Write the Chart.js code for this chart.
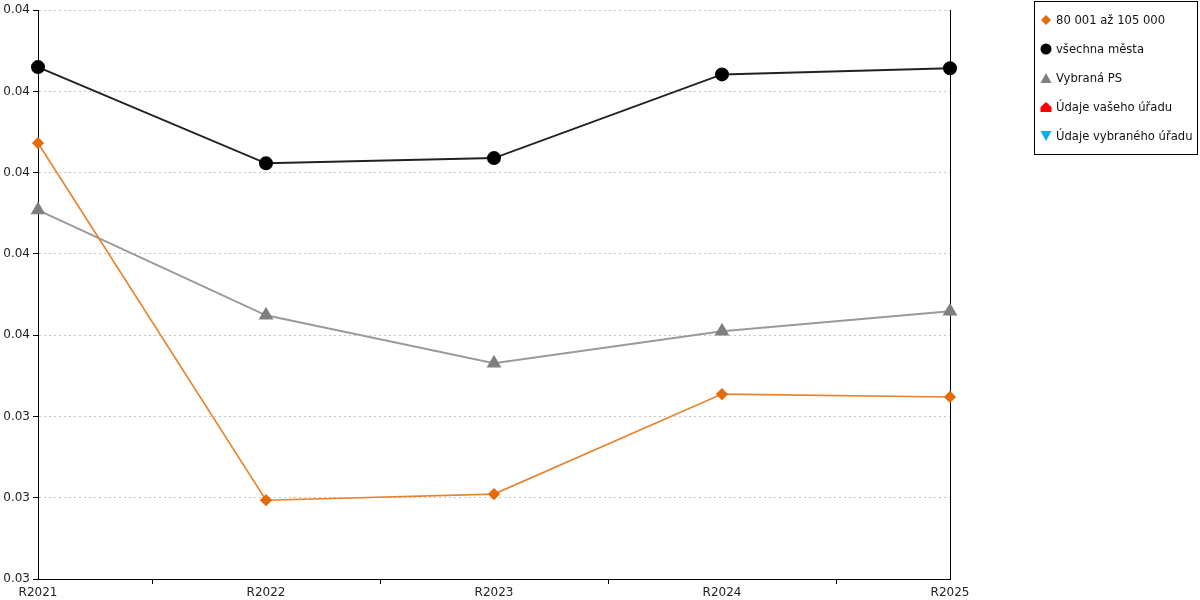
<!DOCTYPE html>
<html>
<head>
<meta charset="utf-8">
<script src="https://cdn.jsdelivr.net/npm/chart.js@4"></script>
<style>
  html, body { margin: 0; padding: 0; background: #fff; }
  #wrap { position: relative; width: 1200px; height: 600px; }
  #legend { position: absolute; left: 1034px; top: 1px; width: 164px; height: 154px; border: 1px solid #000; box-sizing: border-box;
            font-family: "DejaVu Sans", Verdana, sans-serif; font-size: 11.6px; color: #111; }
  .item { position: absolute; left: 5px; height: 16px; line-height: 16px; white-space: nowrap; }
  .item svg { position: absolute; left: 0; top: 2px; }
  .item span { position: absolute; left: 16px; top: 0; }
</style>
</head>
<body>
<div id="wrap">
  <canvas id="c" width="1200" height="600"></canvas>
  <div id="legend"></div>
</div>
<script>
const categories = ["R2021", "R2022", "R2023", "R2024", "R2025"];
const seriesNames = ["80 001 až 105 000", "všechna města", "Vybraná PS", "Údaje vašeho úřadu", "Údaje vybraného úřadu"];
const sizeGroup = [0.04073, 0.03194, 0.03209, 0.03455, 0.03448];
const allCities = [0.04260, 0.04023, 0.04036, 0.04242, 0.04257];
const selectedPS = [0.03908, 0.03649, 0.03531, 0.03610, 0.03659];
const yourOffice = [];
const selectedOffice = [];
const yTicks = { min: 0.030, max: 0.044, step: 0.002 };

const FONT = '"DejaVu Sans", Verdana, sans-serif';

const datasets = [
  { label: seriesNames[0], data: sizeGroup, borderColor: '#E8822E', backgroundColor: '#E36C0A', pointBorderColor: '#E36C0A',
    borderWidth: 1.6, pointStyle: 'rectRot', pointRadius: 5, pointHoverRadius: 5, order: 1 },
  { label: seriesNames[1], data: allCities, borderColor: '#222222', backgroundColor: '#000000', pointBorderColor: '#000000',
    borderWidth: 2, pointStyle: 'circle', pointRadius: 6, pointHoverRadius: 6, order: 2 },
  { label: seriesNames[2], data: selectedPS, borderColor: '#9A9A9A', backgroundColor: '#7F7F7F', pointBorderColor: '#7F7F7F',
    borderWidth: 2, pointStyle: 'triangle', pointRadius: 6.5, pointHoverRadius: 6.5, order: 3 },
  { label: seriesNames[3], data: yourOffice, borderColor: '#FF0000', backgroundColor: '#FF0000', pointStyle: 'triangle' },
  { label: seriesNames[4], data: selectedOffice, borderColor: '#00B0F0', backgroundColor: '#00B0F0', pointStyle: 'triangle', rotation: 180 }
];

new Chart(document.getElementById('c'), {
  type: 'line',
  data: { labels: categories, datasets: datasets },
  options: {
    responsive: false,
    animation: false,
    events: [],
    layout: { padding: { top: 10, right: 250, bottom: 0, left: 0 } },
    plugins: { legend: { display: false }, tooltip: { enabled: false } },
    elements: { line: { tension: 0 } },
    scales: {
      x: {
        offset: false,
        afterFit: s => { s.height = 21; },
        grid: { offset: true, drawOnChartArea: false, tickLength: 5, color: '#000', tickColor: '#000' },
        border: { display: true, color: '#000', width: 1 },
        ticks: { font: { family: FONT, size: 12 }, color: '#222', padding: 2, maxRotation: 0, autoSkip: false }
      },
      y: {
        min: yTicks.min, max: yTicks.max,
        afterFit: s => { s.width = 38; },
        grid: { color: '#C4C4C4', lineWidth: 1, tickColor: '#000', tickLength: 5, tickBorderDash: [] },
        border: { display: true, color: '#000', width: 1, dash: [2, 3] },
        ticks: { stepSize: yTicks.step, font: { family: FONT, size: 12 }, color: '#222', padding: 3,
                 callback: v => Number(v).toFixed(2) }
      },
      y2: {
        position: 'right', min: yTicks.min, max: yTicks.max,
        afterFit: s => { s.width = 0; },
        grid: { display: false, drawTicks: false },
        border: { display: true, color: '#000', width: 1 },
        ticks: { display: false }
      }
    }
  }
});

// HTML legend
const markers = [
  '<svg width="12" height="12"><polygon points="6,1 11,6 6,11 1,6" fill="#E36C0A"/></svg>',
  '<svg width="12" height="12"><circle cx="6" cy="6" r="5.5" fill="#000"/></svg>',
  '<svg width="12" height="12"><polygon points="6,1 11.5,11 0.5,11" fill="#808080"/></svg>',
  '<svg width="12" height="12"><polygon points="6,1 11.5,6 11.5,11 0.5,11 0.5,6" fill="#FF0000"/></svg>',
  '<svg width="12" height="12"><polygon points="0.5,1 11.5,1 6,11" fill="#00B0F0"/></svg>'
];
const leg = document.getElementById('legend');
seriesNames.forEach((n, i) => {
  const d = document.createElement('div');
  d.className = 'item';
  d.style.top = (10 + i * 29) + 'px';
  d.innerHTML = markers[i] + '<span>' + n + '</span>';
  leg.appendChild(d);
});
</script>
</body>
</html>
